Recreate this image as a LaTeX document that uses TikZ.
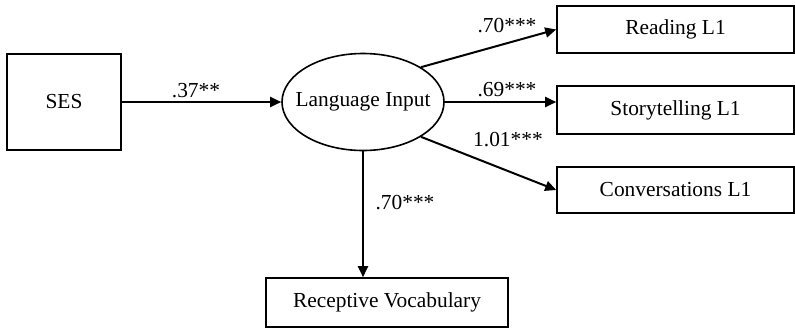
\documentclass[tikz,border=0pt]{standalone}
\usepackage{fontspec}
\setmainfont{Liberation Serif}
\usetikzlibrary{arrows.meta,shapes.geometric}

\begin{document}
\begin{tikzpicture}[x=0.5pt,y=0.5pt,
        font=\fontsize{10.7}{12}\selectfont,
        obs/.style={draw,line width=0.8pt,rectangle,inner sep=0pt},
        lat/.style={draw,line width=0.8pt,ellipse,inner sep=0pt},
        arr/.style={line width=1pt,-{Triangle[length=5.5pt,width=5pt]}},
        coef/.style={anchor=base,inner sep=0pt}]

    \useasboundingbox (0,0) rectangle (795,328);

    % variables
    \node[obs,minimum width=57pt,minimum height=48pt] (ses) at (64,226) {SES};
    \node[lat,minimum width=81pt,minimum height=48.5pt,
          label={center:Language Input}] (input) at (363,226) {};
    \node[obs,minimum width=118.5pt,minimum height=23.5pt] (read) at (675.5,298.5) {Reading L1};
    \node[obs,minimum width=118.5pt,minimum height=24pt] (story) at (675.5,218) {Storytelling L1};
    \node[obs,minimum width=118.5pt,minimum height=23pt] (conv) at (675.5,138) {Conversations L1};
    \node[obs,minimum width=121pt,minimum height=24.5pt] (vocab) at (387,25.5) {Receptive Vocabulary};

    % paths
    \draw[arr] (ses.east) -- (input.west);
    \draw[arr] (input.31) -- (read.west);
    \draw[arr] (input.east) -- (story.west |- input.east);
    \draw[arr] (input.-31) -- (conv.west);
    \draw[arr] (input.south) -- (input.south |- vocab.north);

    % estimates
    \node[coef] (b1) at (196,231) {.37**};
    \node[coef] (b2) at (507,296) {.70***};
    \node[coef] (b3) at (507,232) {.69***};
    \node[coef] (b4) at (508,182) {1.01***};
    \node[coef] (b5) at (405,119) {.70***};
\end{tikzpicture}
\end{document}
